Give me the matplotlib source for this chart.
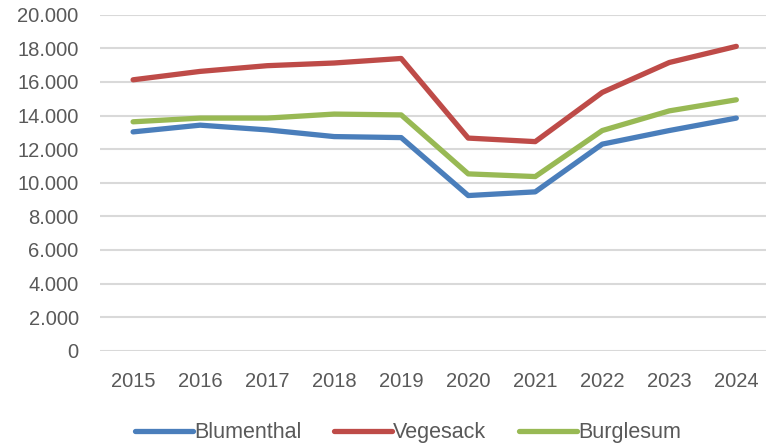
import matplotlib.pyplot as plt
from matplotlib.ticker import FuncFormatter

years = ['2015', '2016', '2017', '2018', '2019', '2020', '2021', '2022', '2023', '2024']
blumenthal = [13030, 13430, 13150, 12750, 12690, 9240, 9460, 12300, 13110, 13850]
vegesack = [16130, 16630, 16970, 17130, 17400, 12660, 12450, 15380, 17160, 18120]
burglesum = [13630, 13850, 13850, 14090, 14040, 10530, 10370, 13110, 14280, 14940]

plt.rcParams['font.family'] = ['Liberation Sans', 'DejaVu Sans']

fig = plt.figure(figsize=(7.66, 4.48), dpi=100)
ax = fig.add_axes([0.13, 0.217, 0.875, 0.75])

x = range(len(years))
ax.plot(x, blumenthal, color='#4a7ebb', linewidth=3.8, label='Blumenthal', solid_capstyle='round')
ax.plot(x, vegesack, color='#be4b48', linewidth=3.8, label='Vegesack', solid_capstyle='round')
ax.plot(x, burglesum, color='#98b954', linewidth=3.8, label='Burglesum', solid_capstyle='round')

ax.set_xlim(-0.5, len(years) - 0.5)
ax.set_ylim(0, 20000)
ax.set_yticks(range(0, 20001, 2000))
ax.yaxis.set_major_formatter(FuncFormatter(lambda v, p: f'{int(v):,}'.replace(',', '.')))
ax.set_xticks(list(x))
ax.set_xticklabels(years)
ax.grid(axis='y', color='#d9d9d9', linewidth=1.5)
ax.set_axisbelow(True)
for s in ax.spines.values():
    s.set_visible(False)
ax.tick_params(length=0, labelsize=14.5, colors='#595959')
ax.tick_params(axis='y', pad=15)
ax.tick_params(axis='x', pad=15)

leg = ax.legend(loc='upper center', bbox_to_anchor=(0.46, -0.155), ncol=3, frameon=False,
                fontsize=15.5, handlelength=2.7, handletextpad=0.05, columnspacing=1.5)
for t in leg.get_texts():
    t.set_color('#595959')

fig.savefig('out.png', dpi=100)
